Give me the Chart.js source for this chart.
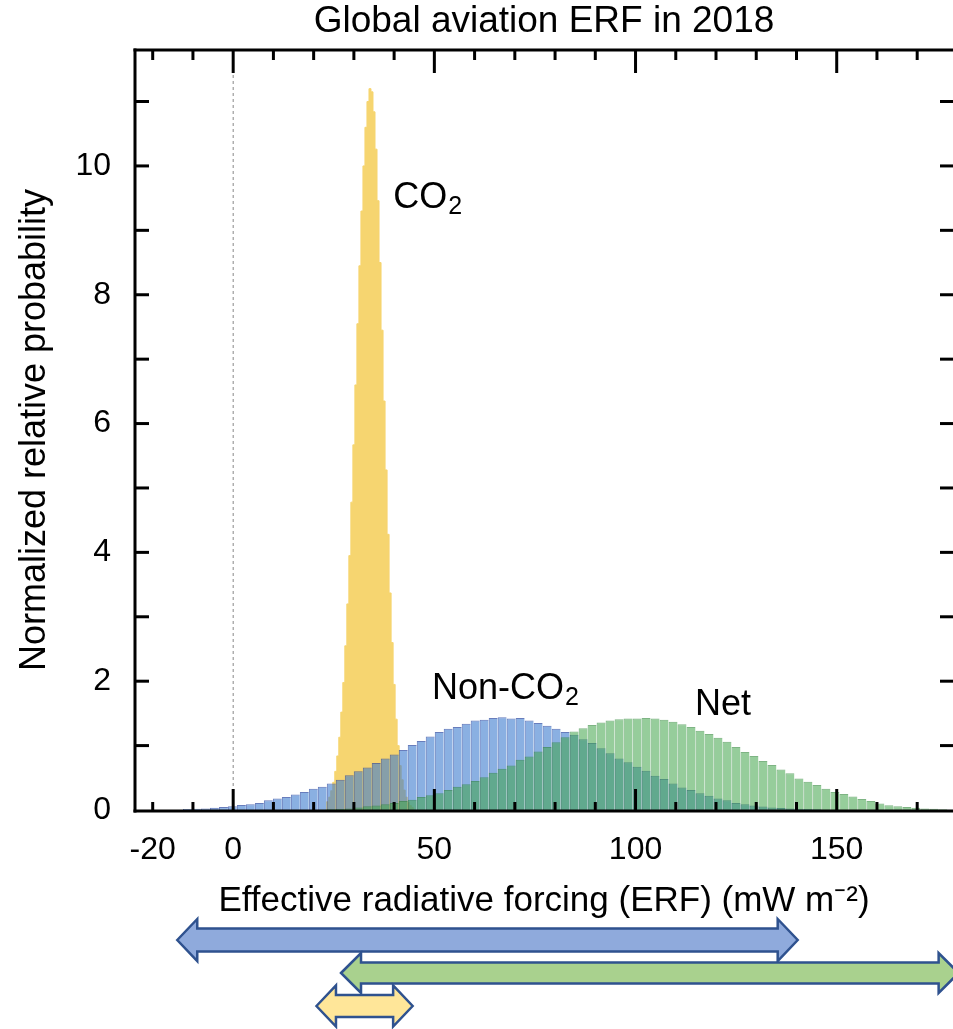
<!DOCTYPE html>
<html>
<head>
<meta charset="utf-8">
<script src="https://cdn.jsdelivr.net/npm/chart.js@4.4.1/dist/chart.umd.min.js"></script>
<style>
  html, body { margin: 0; padding: 0; background: #fff; }
  #wrap { width: 953px; height: 1029px; }
</style>
</head>
<body>
<div id="wrap"><canvas id="erfChart" width="953" height="1029"></canvas></div>
<script>
// histogram bin centres (mW m-2), shared by Non-CO2 and Net
const binCenters = [
  -11.37, -9.14, -6.90, -4.67, -2.43, -0.20,
  2.04, 4.27, 6.51, 8.74, 10.98, 13.21, 15.45, 17.68, 19.92, 22.15,
  24.39, 26.62, 28.86, 31.09, 33.33, 35.56, 37.80, 40.03, 42.27, 44.50,
  46.74, 48.97, 51.21, 53.44, 55.68, 57.91, 60.15, 62.38, 64.62, 66.85,
  69.09, 71.32, 73.56, 75.79, 78.03, 80.26, 82.50, 84.73, 86.97, 89.20,
  91.44, 93.67, 95.91, 98.14, 100.38, 102.61, 104.85, 107.08, 109.32, 111.55,
  113.79, 116.02, 118.26, 120.49, 122.73, 124.96, 127.20, 129.43, 131.67, 133.90,
  136.14, 138.37, 140.61, 142.84, 145.08, 147.31, 149.55, 151.78, 154.02, 156.25,
  158.49, 160.72, 162.96, 165.19, 167.43, 169.66, 171.90, 174.13, 176.37
];

const nonCO2Prob = [
  0.015, 0.02, 0.025, 0.035, 0.045, 0.06,
  0.078, 0.09, 0.11, 0.15, 0.18, 0.20, 0.24, 0.28, 0.33, 0.36,
  0.41, 0.47, 0.54, 0.60, 0.66, 0.73, 0.80, 0.86, 0.93, 1.01,
  1.07, 1.14, 1.21, 1.26, 1.29, 1.34, 1.39, 1.40, 1.43, 1.44,
  1.42, 1.43, 1.39, 1.35, 1.31, 1.26, 1.21, 1.17, 1.10, 1.04,
  0.96, 0.88, 0.80, 0.74, 0.67, 0.61, 0.53, 0.48, 0.41, 0.35,
  0.31, 0.26, 0.22, 0.18, 0.15, 0.11, 0.09, 0.07, 0.055, 0.04,
  0.03, 0.025, 0.02, 0.015, 0.01, 0.005, 0, 0, 0, 0,
  0, 0, 0, 0, 0, 0, 0, 0, 0
];

const netProb = [
  0, 0, 0, 0, 0, 0,
  0, 0, 0, 0, 0, 0, 0, 0, 0, 0.005,
  0.01, 0.015, 0.025, 0.04, 0.06, 0.07, 0.09, 0.11, 0.14, 0.16,
  0.20, 0.23, 0.26, 0.31, 0.36, 0.40, 0.45, 0.51, 0.58, 0.64,
  0.69, 0.78, 0.83, 0.91, 0.98, 1.05, 1.13, 1.22, 1.27, 1.32,
  1.36, 1.39, 1.41, 1.42, 1.42, 1.43, 1.42, 1.40, 1.37, 1.33,
  1.29, 1.23, 1.18, 1.12, 1.06, 0.98, 0.90, 0.84, 0.76, 0.70,
  0.63, 0.57, 0.49, 0.44, 0.39, 0.33, 0.28, 0.25, 0.21, 0.17,
  0.14, 0.10, 0.075, 0.06, 0.045, 0.035, 0.025, 0.018, 0.012
];

// CO2 has much finer bins
const co2X = [
  23.0, 23.5, 24.0, 24.5, 25.0, 25.5, 26.0, 26.5, 27.0, 27.5, 28.0, 28.5,
  29.0, 29.5, 30.0, 30.5, 31.0, 31.5, 32.0, 32.5, 33.0, 33.5, 34.0, 34.5,
  35.0, 35.5, 36.0, 36.5, 37.0, 37.5, 38.0, 38.5, 39.0, 39.5, 40.0, 40.5,
  41.0, 41.5, 42.0, 42.5, 43.0, 43.5, 44.0, 44.5, 45.0
];
const co2Prob = [
  0, 0.13, 0.2, 0.3, 0.43, 0.6, 0.84, 1.13, 1.52, 1.98, 2.55, 3.2,
  3.95, 4.78, 5.67, 6.6, 7.55, 8.45, 9.3, 10.0, 10.6, 11.0, 11.2, 11.15,
  10.84, 10.26, 9.46, 8.5, 7.45, 6.35, 5.28, 4.28, 3.37, 2.6, 1.95, 1.41,
  1.0, 0.69, 0.47, 0.31, 0.2, 0.12, 0.07, 0.04, 0
];

// ranges shown by the arrows under the axis
const nonCO2Range = [-13.9, 140.3];
const netRange = [26.8, 180.3];
const co2Range = [20.7, 44.6];

const xTickLabels = [-20, 0, 50, 100, 150];
const xMajorTicks = [0, 50, 100, 150];
const xMinorTicks = [-20, -10, 10, 20, 30, 40, 60, 70, 80, 90, 110, 120, 130, 140, 160, 170];
const yTickLabels = [0, 2, 4, 6, 8, 10];
const yTicks = [1, 2, 3, 4, 5, 6, 7, 8, 9, 10, 11];

const FONT = '"Liberation Sans", Arial, sans-serif';

const toPoints = (xs, ys) => xs.map((x, i) => ({ x: x, y: ys[i] === 0 ? null : ys[i] }));

// label spots in data coordinates
const labelSpots = [
  { main: 'CO', sub: '2', x: 39.8, y: 9.5 },
  { main: 'Non-CO', sub: '2', x: 49.4, y: 1.87 },
  { main: 'Net', sub: '', x: 114.8, y: 1.63 }
];

function seg(ctx, x1, y1, x2, y2) {
  ctx.beginPath();
  ctx.moveTo(x1, y1);
  ctx.lineTo(x2, y2);
  ctx.stroke();
}

function drawArrow(ctx, x1, x2, yc, shaft, head, headLen, fill) {
  const s = shaft / 2, h = head / 2;
  ctx.beginPath();
  ctx.moveTo(x1, yc);
  ctx.lineTo(x1 + headLen, yc - h);
  ctx.lineTo(x1 + headLen, yc - s);
  ctx.lineTo(x2 - headLen, yc - s);
  ctx.lineTo(x2 - headLen, yc - h);
  ctx.lineTo(x2, yc);
  ctx.lineTo(x2 - headLen, yc + h);
  ctx.lineTo(x2 - headLen, yc + s);
  ctx.lineTo(x1 + headLen, yc + s);
  ctx.lineTo(x1 + headLen, yc + h);
  ctx.closePath();
  ctx.fillStyle = fill;
  ctx.fill();
  ctx.lineWidth = 2.5;
  ctx.strokeStyle = '#2F528F';
  ctx.lineJoin = 'miter';
  ctx.stroke();
}

/* ===== FRAME, INWARD TICKS, LABELS, ARROWS ===== */
const framePlugin = {
  id: 'frame',
  afterDraw(chart) {
    const { ctx, chartArea: a, scales: { x, y } } = chart;
    ctx.save();
    ctx.strokeStyle = '#000';
    ctx.lineWidth = 3;
    ctx.lineCap = 'butt';

    // box (right side is off the canvas)
    seg(ctx, a.left, a.top - 1.5, a.left, a.bottom + 2.5);
    seg(ctx, a.left - 1.5, a.bottom + 1, a.right, a.bottom + 1);
    seg(ctx, a.left - 1.5, a.top, a.right, a.top);

    xMajorTicks.forEach(v => {
      const px = x.getPixelForValue(v);
      seg(ctx, px, a.bottom, px, a.bottom - 21);
      seg(ctx, px, a.top, px, a.top + 23);
    });
    xMinorTicks.forEach(v => {
      const px = x.getPixelForValue(v);
      seg(ctx, px, a.bottom, px, a.bottom - 8);
      seg(ctx, px, a.top, px, a.top + 10);
    });
    yTicks.forEach(v => {
      const py = y.getPixelForValue(v);
      seg(ctx, a.left, py, a.left + 14, py);
      seg(ctx, a.right - 13, py, a.right, py);
    });

    // series labels
    ctx.fillStyle = '#000';
    ctx.textBaseline = 'middle';
    ctx.textAlign = 'left';
    labelSpots.forEach(l => {
      const px = x.getPixelForValue(l.x);
      const py = y.getPixelForValue(l.y);
      ctx.font = '36px ' + FONT;
      ctx.fillText(l.main, px, py);
      if (l.sub) {
        const w = ctx.measureText(l.main).width;
        ctx.font = '25px ' + FONT;
        ctx.fillText(l.sub, px + w + 1, py + 9);
      }
    });

    // range arrows
    drawArrow(ctx, x.getPixelForValue(nonCO2Range[0]), x.getPixelForValue(nonCO2Range[1]), 940, 23, 42, 20, '#8FAADC');
    drawArrow(ctx, x.getPixelForValue(netRange[0]), x.getPixelForValue(netRange[1]), 973, 21, 40, 20, '#A9D18E');
    drawArrow(ctx, x.getPixelForValue(co2Range[0]), x.getPixelForValue(co2Range[1]), 1006, 22, 41, 19.5, '#FFE699');

    ctx.restore();
  }
};

const barStyle = {
  barPercentage: 1,
  categoryPercentage: 1,
  grouped: false,
  inflateAmount: 0,
  borderWidth: { top: 1, left: 1, right: 0, bottom: 0 },
  borderSkipped: false
};

new Chart(document.getElementById('erfChart'), {
  type: 'bar',
  data: {
    datasets: [
      Object.assign({
        label: 'Net',
        data: toPoints(binCenters, netProb),
        backgroundColor: 'rgba(64,164,73,0.55)',
        borderColor: 'rgba(40,130,50,0.6)',
        order: 1
      }, barStyle),
      Object.assign({
        label: 'Non-CO2',
        data: toPoints(binCenters, nonCO2Prob),
        backgroundColor: 'rgba(60,123,207,0.6)',
        borderColor: 'rgba(40,70,160,0.7)',
        order: 2
      }, barStyle),
      {
        type: 'line',
        label: 'CO2',
        data: co2X.map((x, i) => ({ x: x, y: co2Prob[i] })),
        stepped: 'middle',
        fill: 'origin',
        backgroundColor: 'rgb(246,213,112)',
        borderColor: 'rgb(246,213,112)',
        borderWidth: 1,
        pointRadius: 0,
        order: 3
      },
      {
        type: 'line',
        label: 'zero',
        data: [{ x: 0, y: 0 }, { x: 0, y: 11.8 }],
        borderColor: '#888',
        borderWidth: 1,
        borderDash: [3, 3],
        pointRadius: 0,
        fill: false,
        order: 4
      }
    ]
  },
  options: {
    responsive: false,
    animation: false,
    layout: { padding: 0 },
    plugins: {
      legend: { display: false },
      tooltip: { enabled: false },
      title: {
        display: true,
        text: 'Global aviation ERF in 2018',
        color: '#000',
        fullSize: false,
        font: { family: FONT, size: 37, weight: 'normal', lineHeight: 1.2 },
        padding: { top: 0, bottom: 5.6 }
      }
    },
    scales: {
      x: {
        type: 'linear',
        min: -24.4,
        max: 178.9,
        offset: false,
        grid: { display: false, drawTicks: false },
        border: { display: false },
        afterBuildTicks: s => { s.ticks = xTickLabels.map(v => ({ value: v })); },
        afterFit: s => { s.height = 219; },
        ticks: { color: '#000', font: { family: FONT, size: 32 }, padding: 21, maxRotation: 0, autoSkip: false },
        title: {
          display: true,
          text: 'Effective radiative forcing (ERF) (mW m\u207B\u00B2)',
          color: '#000',
          font: { family: FONT, size: 35 },
          padding: { top: 0, bottom: 107 }
        }
      },
      y: {
        min: 0,
        max: 11.8,
        grid: { display: false, drawTicks: false },
        border: { display: false },
        afterBuildTicks: s => { s.ticks = yTickLabels.map(v => ({ value: v })); },
        afterFit: s => { s.width = 135; },
        ticks: { color: '#000', font: { family: FONT, size: 32 }, padding: 24 },
        title: {
          display: true,
          text: 'Normalized relative probability',
          color: '#000',
          font: { family: FONT, size: 36 },
          padding: { top: 13, bottom: 0 }
        }
      }
    }
  },
  plugins: [framePlugin]
});
</script>
</body>
</html>
